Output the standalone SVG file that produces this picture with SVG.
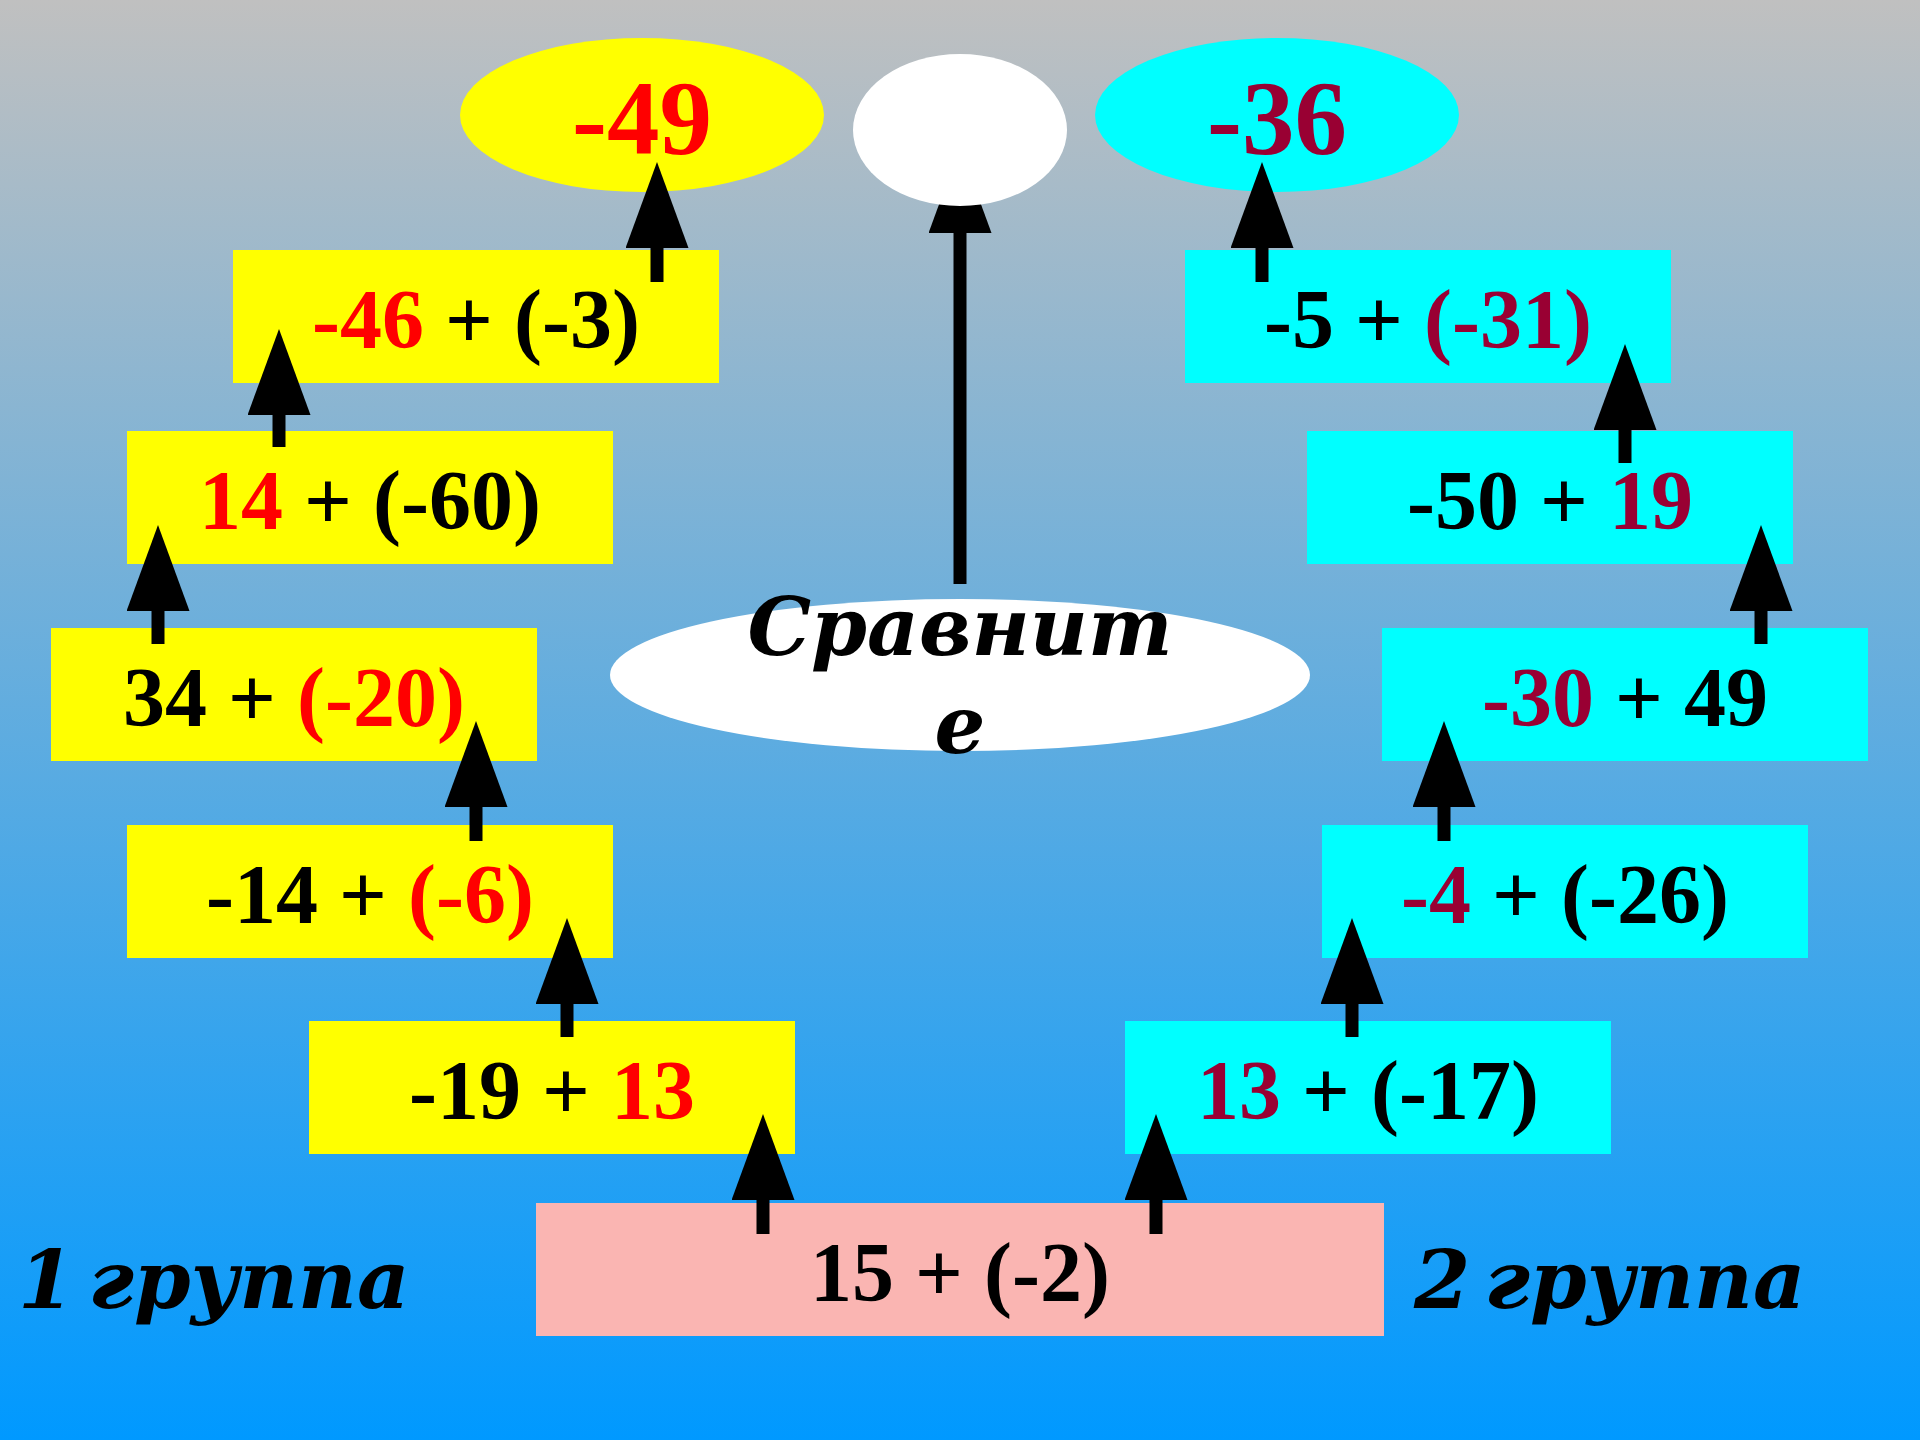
<svg xmlns="http://www.w3.org/2000/svg" width="1920" height="1440" viewBox="0 0 1920 1440">
<defs>
<linearGradient id="bg" x1="0" y1="0" x2="0" y2="1">
<stop offset="0" stop-color="#C0C0C0"/>
<stop offset="1" stop-color="#0099FF"/>
</linearGradient>
<marker id="ah" viewBox="0 0 86 63" refX="1" refY="31.5" markerWidth="86" markerHeight="63" markerUnits="userSpaceOnUse" orient="auto">
<path d="M0,0 L86,31.5 L0,63 Z" fill="#000"/>
</marker>
</defs>
<style>
.y{fill:#FFFF00}
.c{fill:#00FFFF}
.p{fill:#FAB5B2}
.t{font-family:"Liberation Serif","Times New Roman",serif;font-weight:bold;font-size:84px;fill:#000;text-anchor:middle}
.big{font-family:"Liberation Serif","Times New Roman",serif;font-weight:bold;font-size:105px;text-anchor:middle}
.it{font-family:"DejaVu Serif",serif;font-weight:bold;font-style:italic;fill:#000}
.r{fill:#FF0000}
.m{fill:#990033}
.k{fill:#000}
.ar{stroke:#000;stroke-width:13;fill:none;marker-end:url(#ah)}
</style>
<rect x="0" y="0" width="1920" height="1440" fill="url(#bg)"/>

<g id="res-left">
<ellipse cx="642" cy="115" rx="182" ry="77" class="y"/>
<text x="642" y="154" class="big r">-49</text>
</g>
<g id="res-right">
<ellipse cx="1277" cy="115" rx="182" ry="77" class="c"/>
<text x="1277" y="154" class="big m">-36</text>
</g>

<g id="l1"><rect x="233" y="250" width="486" height="133" class="y"/>
<text x="476" y="348" class="t"><tspan class="r">-46</tspan> + (-3)</text></g>
<g id="l2"><rect x="127" y="431" width="486" height="133" class="y"/>
<text x="370" y="529" class="t"><tspan class="r">14</tspan> + (-60)</text></g>
<g id="l3"><rect x="51" y="628" width="486" height="133" class="y"/>
<text x="294" y="726" class="t">34 + <tspan class="r">(-20)</tspan></text></g>
<g id="l4"><rect x="127" y="825" width="486" height="133" class="y"/>
<text x="370" y="923" class="t">-14 + <tspan class="r">(-6)</tspan></text></g>
<g id="l5"><rect x="309" y="1021" width="486" height="133" class="y"/>
<text x="552" y="1119" class="t">-19 + <tspan class="r">13</tspan></text></g>

<g id="start"><rect x="536" y="1203" width="848" height="133" class="p"/>
<text x="960" y="1301" class="t">15 + (-2)</text></g>

<g id="r5"><rect x="1125" y="1021" width="486" height="133" class="c"/>
<text x="1368" y="1119" class="t"><tspan class="m">13</tspan> + (-17)</text></g>
<g id="r4"><rect x="1322" y="825" width="486" height="133" class="c"/>
<text x="1565" y="923" class="t"><tspan class="m">-4</tspan> + (-26)</text></g>
<g id="r3"><rect x="1382" y="628" width="486" height="133" class="c"/>
<text x="1625" y="726" class="t"><tspan class="m">-30</tspan> + 49</text></g>
<g id="r2"><rect x="1307" y="431" width="486" height="133" class="c"/>
<text x="1550" y="529" class="t">-50 + <tspan class="m">19</tspan></text></g>
<g id="r1"><rect x="1185" y="250" width="486" height="133" class="c"/>
<text x="1428" y="348" class="t">-5 + <tspan class="m">(-31)</tspan></text></g>

<g id="connectors">
<line x1="657" y1="282" x2="657" y2="247" class="ar"/>
<line x1="279" y1="447" x2="279" y2="414" class="ar"/>
<line x1="158" y1="644" x2="158" y2="610" class="ar"/>
<line x1="476" y1="841" x2="476" y2="806" class="ar"/>
<line x1="567" y1="1037" x2="567" y2="1003" class="ar"/>
<line x1="763" y1="1234" x2="763" y2="1199" class="ar"/>
<line x1="1156" y1="1234" x2="1156" y2="1199" class="ar"/>
<line x1="1352" y1="1037" x2="1352" y2="1003" class="ar"/>
<line x1="1444" y1="841" x2="1444" y2="806" class="ar"/>
<line x1="1761" y1="644" x2="1761" y2="610" class="ar"/>
<line x1="1625" y1="463" x2="1625" y2="429" class="ar"/>
<line x1="1262" y1="282" x2="1262" y2="247" class="ar"/>
<line x1="960" y1="584" x2="960" y2="232" class="ar"/>
</g>

<g id="answer">
<ellipse cx="960" cy="130" rx="107" ry="76" fill="#FFFFFF"/>
</g>

<g id="compare">
<ellipse cx="960" cy="675" rx="350" ry="76" fill="#FFFFFF"/>
<text x="960" y="655" class="it" font-size="80" text-anchor="middle">Сравнит</text>
<text x="960" y="753" class="it" font-size="80" text-anchor="middle">е</text>
</g>

<g id="group1"><text x="18" y="1308" class="it" font-size="81" word-spacing="-14">1 группа</text></g>
<g id="group2"><text x="1414" y="1308" class="it" font-size="81" word-spacing="-14">2 группа</text></g>
</svg>
